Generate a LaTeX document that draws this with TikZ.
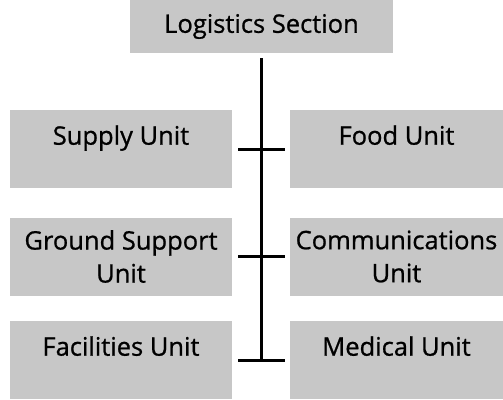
\documentclass[tikz,border=0pt]{standalone}
\usepackage{fontspec}
\setmainfont{Open Sans}[FakeBold=0.8]
\usepackage{tikz}

\begin{document}
\begin{tikzpicture}[x=1pt, y=-1pt,
  unitbox/.style={rectangle, fill=black!22, inner sep=0pt, align=center,
    font=\fontsize{25.5}{33}\selectfont},
  leftbox/.style={unitbox, minimum width=222pt, minimum height=78pt},
  rightbox/.style={unitbox, minimum width=213pt, minimum height=78pt},
  oneline/.style={text depth=28pt},
  trunk/.style={line width=3.5pt},
  tick/.style={line width=3pt}]
\useasboundingbox (0,0) rectangle (503,399);
\node[unitbox, minimum width=263pt, minimum height=53pt] (logistics) at (261.5,26.5){Logistics Section};
\node[leftbox, oneline] (supply) at (121,149){Supply Unit};
\node[rightbox, oneline] (food) at (396.5,149){Food Unit};
\node[leftbox] (ground) at (121,256.5){Ground Support\\Unit};
\node[rightbox] (comms) at (396.5,256.5){Communications\\Unit};
\node[leftbox, oneline] (facilities) at (121,360){Facilities Unit};
\node[rightbox, oneline] (medical) at (396.5,360){Medical Unit};
\draw[trunk] ([yshift=-5pt]logistics.south) -- (logistics.south |- facilities.east);
\draw[tick] ([xshift=6pt]supply.east) -- ([xshift=-5pt]food.west);
\draw[tick] ([xshift=6pt]ground.east) -- ([xshift=-5pt]comms.west);
\draw[tick] ([xshift=6pt]facilities.east) -- ([xshift=-5pt]medical.west);
\end{tikzpicture}
\end{document}
